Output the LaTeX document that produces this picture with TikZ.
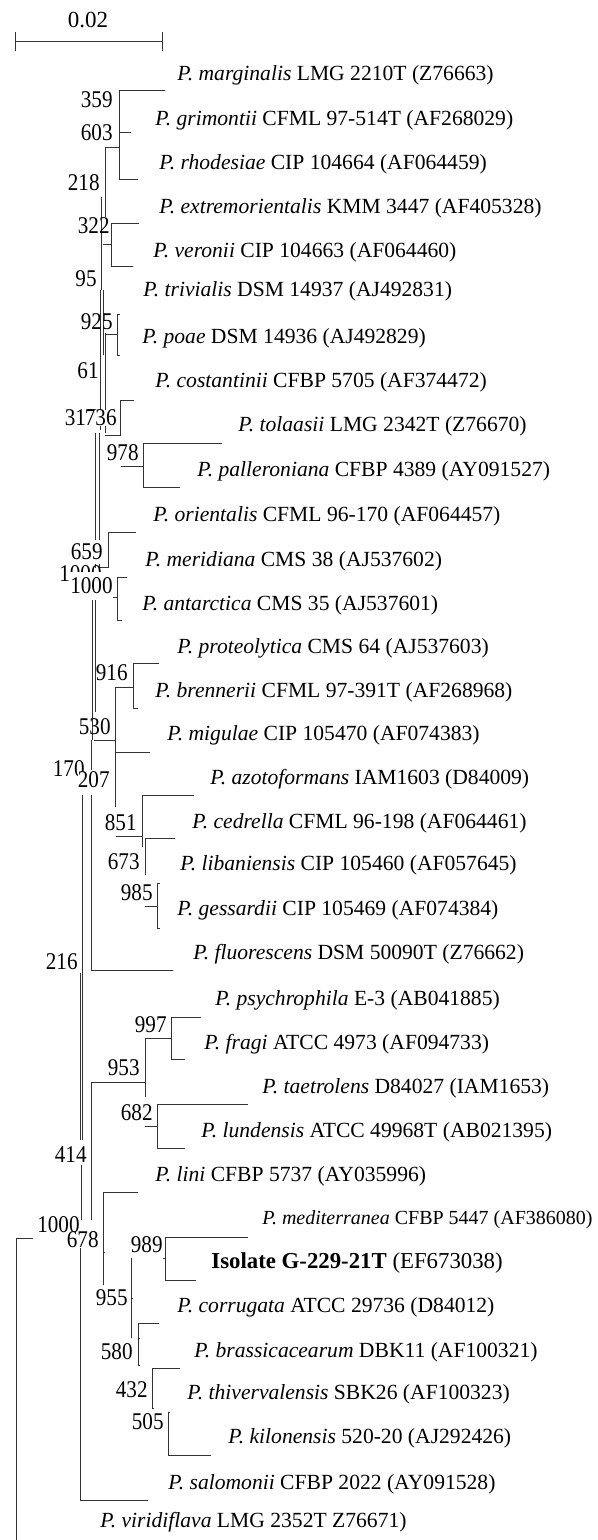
\documentclass[tikz,border=0pt]{standalone}
\usepackage{fontspec}
\setmainfont{Liberation Serif}
\newfontfamily\numfont[FakeStretch=0.88]{Liberation Serif}
\begin{document}
\begin{tikzpicture}[x=0.5pt,y=-0.5pt,
  br/.style={draw=black!80,line width=0.5pt},
  lab/.style={anchor=west,inner sep=0pt,font=\fontsize{10.8}{12}\selectfont},
  num/.style={anchor=east,inner sep=0pt,font=\numfont\fontsize{12}{13}\selectfont},
  numw/.style={num,fill=white}]
\useasboundingbox (0,0) rectangle (598,1540);
% scale bar
\node[inner sep=0pt,font=\fontsize{11.5}{12}\selectfont] (scl) at (88,20) {0.02};
\draw[br] (15,42) -- (162,42);
\draw[br] (15,32) -- (15,51);
\draw[br] (162,32) -- (162,51);
% ---- branches ----
\draw[br] (165,91) -- (119,91) -- (119,180) -- (138,180);
\draw[br] (119,133) -- (131,133);
\draw[br] (105,148) -- (119,148);
\draw[br] (105,148) -- (105,217);
\draw[br] (101,197) -- (101,290);
\draw[br] (139,224) -- (111,224) -- (111,267) -- (133,267);
\draw[br] (103,245) -- (111,245);
\draw[br] (100,290) -- (100,430);
\draw[br] (103,290) -- (103,355);
\draw[br] (120,315) -- (117,315) -- (117,355) -- (120,355);
\draw[br] (105,335) -- (117,335);
\draw[br] (105,333) -- (105,433);
\draw[br] (134,400) -- (120,400) -- (120,435) -- (105,435);
\draw[br] (121,466) -- (143,466);
\draw[br] (222,443) -- (143,443) -- (143,487) -- (180,487);
\draw[br] (95,433) -- (95,568);
\draw[br] (99,433) -- (99,568);
\draw[br] (136,532) -- (108,532) -- (108,567) -- (99,567);
\draw[br] (127,577) -- (117,577) -- (117,620) -- (122,620);
\draw[br] (108,597) -- (117,597);
\draw[br] (92,600) -- (92,740);
\draw[br] (95,600) -- (95,712);
\draw[br] (159,663) -- (133,663) -- (133,708) -- (138,708);
\draw[br] (115,687) -- (133,687);
\draw[br] (115,687) -- (115,807);
\draw[br] (115,752) -- (150,752);
\draw[br] (94,740) -- (115,740);
\draw[br] (91,740) -- (91,770);
\draw[br] (91,795) -- (91,970) -- (173,970);
\draw[br] (194,795) -- (142,795) -- (142,847);
\draw[br] (116,836) -- (142,836);
\draw[br] (175,838) -- (145,838) -- (145,875);
\draw[br] (145,906) -- (157,906);
\draw[br] (160,883) -- (157,883) -- (157,928) -- (160,928);
\draw[br] (82,795) -- (82,1140);
\draw[br] (80,973) -- (80,1140);
\draw[br] (81,1165) -- (81,1220);
\draw[br] (91,1082) -- (145,1082);
\draw[br] (145,1038) -- (145,1097);
\draw[br] (145,1038) -- (171,1038);
\draw[br] (201,1017) -- (171,1017) -- (171,1059) -- (185,1059);
\draw[br] (145,1126) -- (157,1126);
\draw[br] (248,1104) -- (157,1104) -- (157,1148) -- (185,1148);
\draw[br] (91,1082) -- (91,1220);
\draw[br] (138,1192) -- (103,1192) -- (103,1285);
\draw[br] (103,1252) -- (105,1252);
\draw[br] (33,1238) -- (16,1238) -- (16,1540);
\draw[br] (80,1243) -- (80,1500) -- (148,1500);
\draw[br] (248,1237) -- (165,1237) -- (165,1280) -- (196,1280);
\draw[br] (163,1258) -- (165,1258);
\draw[br] (131,1258) -- (131,1338);
\draw[br] (131,1298) -- (133,1298);
\draw[br] (159,1323) -- (138,1323) -- (138,1365);
\draw[br] (138,1338) -- (140,1338);
\draw[br] (180,1368) -- (152,1368) -- (152,1408);
\draw[br] (138,1365) -- (140,1365);
\draw[br] (170,1412) -- (168,1412) -- (168,1455) -- (211,1455);
\draw[br] (152,1408) -- (154,1408);
% ---- bootstrap values ----
\node[num] (b359) at (113,100) {359};
\node[num] (b603) at (113,133) {603};
\node[num] (b218) at (100,183) {218};
\node[num] (b322) at (110,226) {322};
\node[num] (b95) at (97,279) {95};
\node[num] (b925) at (113,322) {925};
\node[num] (b61) at (99,371) {61};
\node[num] (b317) at (97,418) {317};
\node[numw] (b736) at (117,418) {736};
\node[num] (b978) at (139,453) {978};
\node[num] (bhid) at (102,574) {1000};
\node[numw,inner ysep=2pt] (b659) at (103,552) {659};
\node[numw,inner ysep=3pt] (b1000a) at (113,586) {1000};
\node[num] (b916) at (128,673) {916};
\node[num] (b530) at (111,727) {530};
\node[num] (b170) at (85,769) {170};
\node[numw] (b207) at (110,780) {207};
\node[num] (b851) at (137,823) {851};
\node[num] (b673) at (140,862) {673};
\node[num] (b985) at (153,893) {985};
\node[num] (b216) at (78,962) {216};
\node[num] (b997) at (167,1025) {997};
\node[num] (b953) at (140,1068) {953};
\node[num] (b682) at (153,1113) {682};
\node[num] (b414) at (87,1155) {414};
\node[num] (b1000b) at (80,1225) {1000};
\node[numw] (b678) at (99,1240) {678};
\node[num] (b989) at (163,1245) {989};
\node[num] (b955) at (128,1298) {955};
\node[num] (b580) at (133,1352) {580};
\node[num] (b432) at (148,1390) {432};
\node[num] (b505) at (164,1422) {505};
% ---- taxa ----
\node[lab] (t0) at (177,75) {\textit{P. marginalis} LMG 2210T (Z76663)};
\node[lab] (t1) at (155,120) {\textit{P. grimontii} CFML 97-514T (AF268029)};
\node[lab] (t2) at (159,164) {\textit{P. rhodesiae} CIP 104664 (AF064459)};
\node[lab] (t3) at (159,208) {\textit{P. extremorientalis} KMM 3447 (AF405328)};
\node[lab] (t4) at (153,252) {\textit{P. veronii} CIP 104663 (AF064460)};
\node[lab] (t5) at (143,291) {\textit{P. trivialis} DSM 14937 (AJ492831)};
\node[lab] (t6) at (142,338) {\textit{P. poae} DSM 14936 (AJ492829)};
\node[lab] (t7) at (155,382) {\textit{P. costantinii} CFBP 5705 (AF374472)};
\node[lab] (t8) at (238,426) {\textit{P. tolaasii} LMG 2342T (Z76670)};
\node[lab] (t9) at (197,471) {\textit{P. palleroniana} CFBP 4389 (AY091527)};
\node[lab] (t10) at (153,516) {\textit{P. orientalis} CFML 96-170 (AF064457)};
\node[lab] (t11) at (145,561) {\textit{P. meridiana} CMS 38 (AJ537602)};
\node[lab] (t12) at (142,605) {\textit{P. antarctica} CMS 35 (AJ537601)};
\node[lab] (t13) at (177,648) {\textit{P. proteolytica} CMS 64 (AJ537603)};
\node[lab] (t14) at (155,692) {\textit{P. brennerii} CFML 97-391T (AF268968)};
\node[lab] (t15) at (167,735) {\textit{P. migulae} CIP 105470 (AF074383)};
\node[lab] (t16) at (210,779) {\textit{P. azotoformans} IAM1603 (D84009)};
\node[lab] (t17) at (192,823) {\textit{P. cedrella} CFML 96-198 (AF064461)};
\node[lab] (t18) at (180,865) {\textit{P. libaniensis} CIP 105460 (AF057645)};
\node[lab] (t19) at (177,910) {\textit{P. gessardii} CIP 105469 (AF074384)};
\node[lab] (t20) at (193,954) {\textit{P. fluorescens} DSM 50090T (Z76662)};
\node[lab] (t21) at (215,1000) {\textit{P. psychrophila} E-3 (AB041885)};
\node[lab] (t22) at (204,1044) {\textit{P. fragi} ATCC 4973 (AF094733)};
\node[lab] (t23) at (262,1088) {\textit{P. taetrolens} D84027 (IAM1653)};
\node[lab] (t24) at (201,1132) {\textit{P. lundensis} ATCC 49968T (AB021395)};
\node[lab] (t25) at (155,1176) {\textit{P. lini} CFBP 5737 (AY035996)};
\node[lab,font=\fontsize{10}{12}\selectfont] (t26) at (262,1220) {\textit{P. mediterranea} CFBP 5447 (AF386080)};
\node[lab,font=\fontsize{11.4}{12}\selectfont] (t27) at (211,1263) {\textbf{Isolate G-229-21T} (EF673038)};
\node[lab] (t28) at (177,1307) {\textit{P. corrugata} ATCC 29736 (D84012)};
\node[lab] (t29) at (194,1352) {\textit{P. brassicacearum} DBK11 (AF100321)};
\node[lab] (t30) at (187,1394) {\textit{P. thivervalensis} SBK26 (AF100323)};
\node[lab] (t31) at (228,1438) {\textit{P. kilonensis} 520-20 (AJ292426)};
\node[lab] (t32) at (168,1484) {\textit{P. salomonii} CFBP 2022 (AY091528)};
\node[lab] (t33) at (100,1522) {\textit{P. viridiflava} LMG 2352T Z76671)};
\end{tikzpicture}
\end{document}
